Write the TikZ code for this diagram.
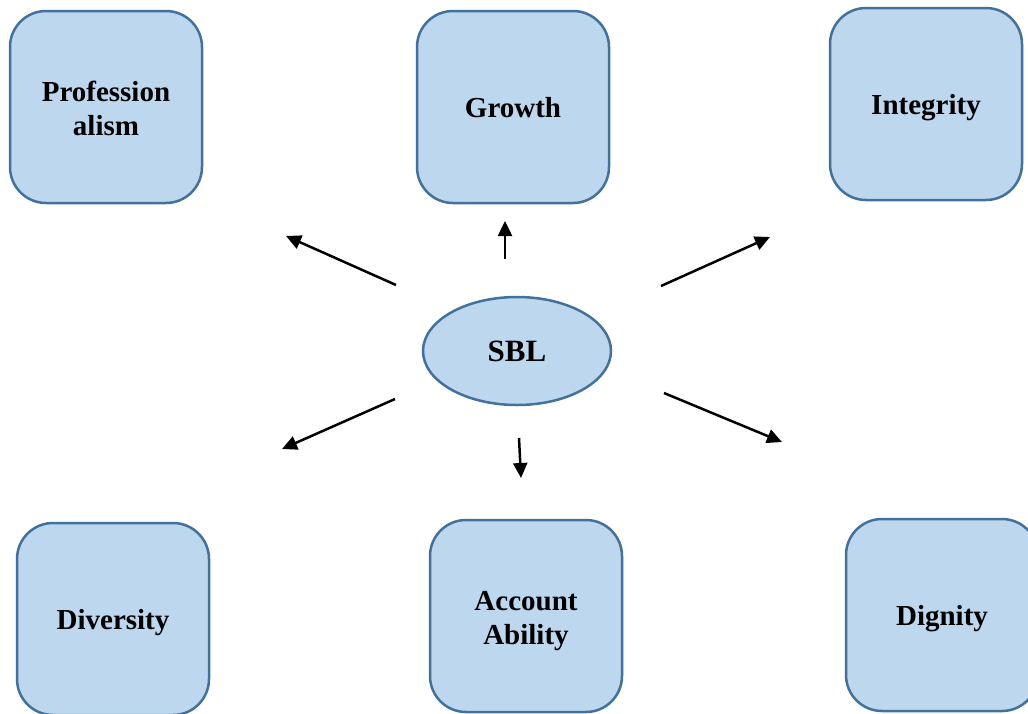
\documentclass[tikz,border=0pt]{standalone}
\usepackage{fontspec}
\setmainfont{Liberation Serif}
\usetikzlibrary{arrows.meta,shapes.geometric}
\definecolor{valfill}{HTML}{BDD7EE}
\definecolor{valline}{HTML}{41719C}
\begin{document}
\begin{tikzpicture}[x=1pt,y=-1pt,
      valbox/.style={draw=valline,fill=valfill,line width=2.5pt,
        rounded corners=36pt,minimum width=192pt,minimum height=192pt,
        text height=20pt,text depth=0pt,
        align=center,font=\fontsize{29}{34}\selectfont\bfseries},
      twoline/.style={text height=56pt},
      core/.style={ellipse,draw=valline,fill=valfill,line width=2.5pt,
        minimum width=188pt,minimum height=108pt,
        text height=21pt,text depth=0pt,
        font=\fontsize{31}{36}\selectfont\bfseries},
      link/.style={line width=2.5pt,-{Triangle[length=15pt,width=14pt]}}]
      \useasboundingbox (0,0) rectangle (1028,713);
      \clip (0,0) rectangle (1028,713);
      \node[core] (sbl) at (517,351) {SBL};
      \node[valbox,twoline] (prof) at (106,107) {Profession\\alism};
      \node[valbox] (grow) at (513,107) {Growth};
      \node[valbox] (integ) at (926,104) {Integrity};
      \node[valbox] (divers) at (113,619) {Diversity};
      \node[valbox,twoline] (account) at (526,616) {Account\\Ability};
      \node[valbox] (dign) at (942,615) {Dignity};
      \coordinate (p1) at (396,285);  \coordinate (q1) at (286,236);
      \coordinate (p2) at (505,259);  \coordinate (q2) at (505,221);
      \coordinate (p3) at (661,286);  \coordinate (q3) at (770,237);
      \coordinate (p4) at (395,399);  \coordinate (q4) at (282,449);
      \coordinate (p5) at (519,438);  \coordinate (q5) at (521,478);
      \coordinate (p6) at (664,393);  \coordinate (q6) at (782,442);
      \draw[link] (p1) -- (q1);
      \draw[link] (p2) -- (q2);
      \draw[link] (p3) -- (q3);
      \draw[link] (p4) -- (q4);
      \draw[link] (p5) -- (q5);
      \draw[link] (p6) -- (q6);
\end{tikzpicture}
\end{document}
